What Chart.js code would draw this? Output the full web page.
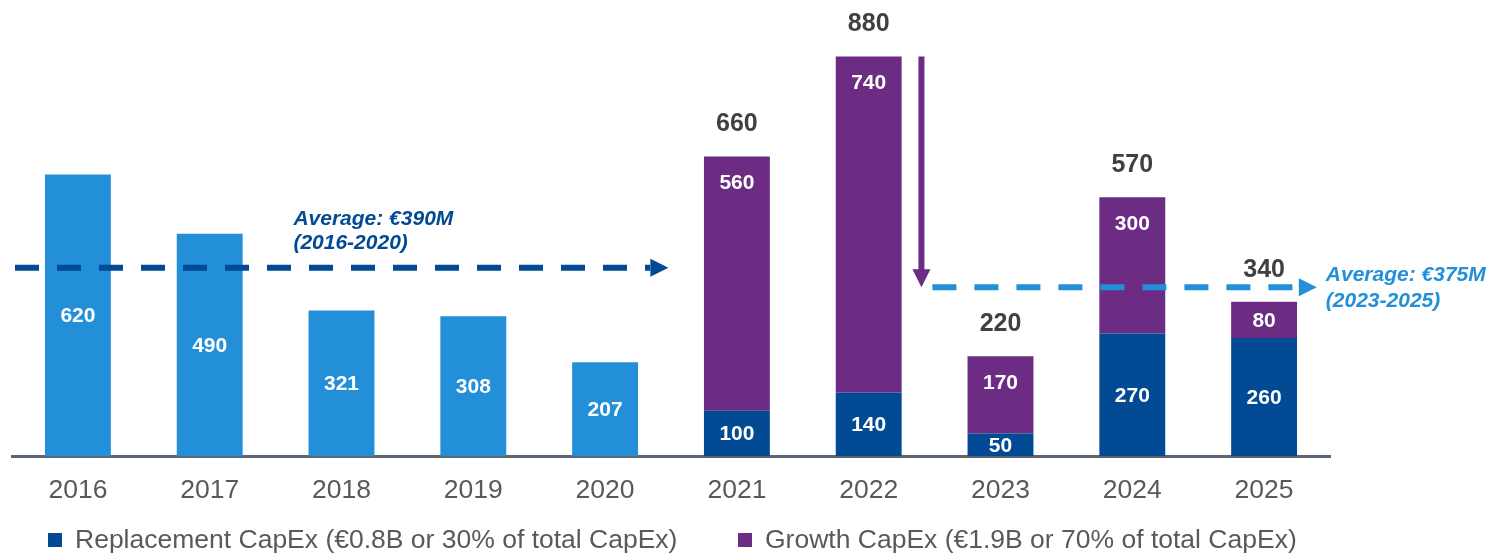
<!DOCTYPE html>
<html>
<head>
<meta charset="utf-8">
<script src="https://cdn.jsdelivr.net/npm/chart.js@4.4.1/dist/chart.umd.min.js"></script>
<style>
  html, body { margin: 0; padding: 0; background: #ffffff; }
  #wrap { width: 1491px; height: 554px; position: relative; }
</style>
</head>
<body>
<div id="wrap"><canvas id="c" width="1491" height="554"></canvas></div>
<script>
// ---- Data ----
const categories = ['2016','2017','2018','2019','2020','2021','2022','2023','2024','2025'];
const historicalCapex = [620, 490, 321, 308, 207, null, null, null, null, null];
const replacementCapex = [null, null, null, null, null, 100, 140, 50, 270, 260];
const growthCapex = [null, null, null, null, null, 560, 740, 170, 300, 80];
const totals = [null, null, null, null, null, 660, 880, 220, 570, 340];
const legendLabels = ['Replacement CapEx (€0.8B or 30% of total CapEx)', 'Growth CapEx (€1.9B or 70% of total CapEx)'];
const avgLabels = [['Average: €390M', '(2016-2020)'], ['Average: €375M', '(2023-2025)']];
const avgLevels = [415, 372]; // drawn level of the dashed average lines on the value axis

const C_LIGHT = '#238FD9';
const C_DARK = '#024A93';
const C_PURPLE = '#6C2C84';
const FONT = '"Liberation Sans", Arial, sans-serif';

function arrowHead(ctx, tipX, tipY, dir, len, half, color) {
  ctx.save();
  ctx.fillStyle = color;
  ctx.beginPath();
  if (dir === 'right') {
    ctx.moveTo(tipX, tipY);
    ctx.lineTo(tipX - len, tipY - half);
    ctx.lineTo(tipX - len, tipY + half);
  } else {
    ctx.moveTo(tipX, tipY);
    ctx.lineTo(tipX - half, tipY - len);
    ctx.lineTo(tipX + half, tipY - len);
  }
  ctx.closePath();
  ctx.fill();
  ctx.restore();
}

const annotationPlugin = {
  id: 'annotations',
  afterDatasetsDraw(chart) {
    const ctx = chart.ctx;
    const x = chart.scales.x, y = chart.scales.y;
    const step = x.getPixelForValue(1) - x.getPixelForValue(0);

    // in-bar value labels
    ctx.save();
    ctx.fillStyle = '#ffffff';
    ctx.font = 'bold 21px ' + FONT;
    ctx.textAlign = 'center';
    ctx.textBaseline = 'middle';
    chart.data.datasets.forEach((ds, di) => {
      const meta = chart.getDatasetMeta(di);
      meta.data.forEach((bar, i) => {
        const v = ds.data[i];
        if (v == null) return;
        const top = bar.y, bottom = bar.base;
        let yy = (top + bottom) / 2;
        if (di === 2) yy = Math.min(top + 26, yy);
        ctx.fillText(String(v), bar.x, yy + 1);
      });
    });
    // totals
    ctx.fillStyle = '#404040';
    ctx.font = 'bold 25px ' + FONT;
    totals.forEach((t, i) => {
      if (t == null) return;
      ctx.fillText(String(t), x.getPixelForValue(i), y.getPixelForValue(t) - 32);
    });
    ctx.restore();

    // dark blue average line (2016-2020)
    const y1 = y.getPixelForValue(avgLevels[0]);
    const x1s = chart.chartArea.left + 3;
    const x1tip = x.getPixelForValue(4) + step * 0.48;
    ctx.save();
    ctx.strokeStyle = C_DARK;
    ctx.lineWidth = 6;
    ctx.setLineDash([24, 18]);
    ctx.beginPath();
    ctx.moveTo(x1s, y1);
    ctx.lineTo(x1tip - 18, y1);
    ctx.stroke();
    ctx.restore();
    arrowHead(ctx, x1tip, y1, 'right', 18, 9, C_DARK);

    // purple down arrow
    const y2 = y.getPixelForValue(avgLevels[1]);
    const ax = x.getPixelForValue(6) + step * 0.40;
    ctx.save();
    ctx.strokeStyle = C_PURPLE;
    ctx.lineWidth = 6;
    ctx.beginPath();
    ctx.moveTo(ax, y.getPixelForValue(totals[6]));
    ctx.lineTo(ax, y2 - 16);
    ctx.stroke();
    ctx.restore();
    arrowHead(ctx, ax, y2, 'down', 18, 9, C_PURPLE);

    // light blue average line (2023-2025)
    const x2s = ax + 11;
    const x2tip = x.getPixelForValue(9) + step * 0.4;
    ctx.save();
    ctx.strokeStyle = C_LIGHT;
    ctx.lineWidth = 6;
    ctx.setLineDash([24, 18]);
    ctx.beginPath();
    ctx.moveTo(x2s, y2);
    ctx.lineTo(x2tip - 18, y2);
    ctx.stroke();
    ctx.restore();
    arrowHead(ctx, x2tip, y2, 'right', 18, 9, C_LIGHT);

    // average texts
    ctx.save();
    ctx.font = 'italic bold 21px ' + FONT;
    ctx.textAlign = 'left';
    ctx.textBaseline = 'middle';
    ctx.fillStyle = C_DARK;
    const tx1 = x.getPixelForValue(2) - step * 0.365;
    ctx.fillText(avgLabels[0][0], tx1, y1 - 49);
    ctx.fillText(avgLabels[0][1], tx1, y1 - 25);
    ctx.fillStyle = C_LIGHT;
    ctx.font = 'italic bold 21px ' + FONT;
    const tx2 = x2tip + 9;
    ctx.fillText(avgLabels[1][0], tx2, y2 - 12);
    ctx.fillText(avgLabels[1][1], tx2, y2 + 14);
    ctx.restore();
  },
  afterDraw(chart) {
    const ctx = chart.ctx;
    ctx.save();
    ctx.font = '26.5px ' + FONT;
    ctx.textBaseline = 'middle';
    ctx.textAlign = 'left';
    const items = [
      { x: 48, color: C_DARK, label: legendLabels[0] },
      { x: 738, color: C_PURPLE, label: legendLabels[1] }
    ];
    const ly = 540;
    items.forEach(it => {
      ctx.fillStyle = it.color;
      ctx.fillRect(it.x, ly - 7, 14, 14);
      ctx.fillStyle = '#595959';
      ctx.fillText(it.label, it.x + 27, ly + 1);
    });
    ctx.restore();
  }
};

new Chart(document.getElementById('c'), {
  type: 'bar',
  data: {
    labels: categories,
    datasets: [
      { label: 'Historical CapEx', data: historicalCapex, backgroundColor: C_LIGHT, stack: 's' },
      { label: legendLabels[0], data: replacementCapex, backgroundColor: C_DARK, stack: 's' },
      { label: legendLabels[1], data: growthCapex, backgroundColor: C_PURPLE, stack: 's' }
    ]
  },
  options: {
    responsive: false,
    animation: false,
    devicePixelRatio: 1,
    layout: { padding: { left: 12, right: 161, top: 2, bottom: 28 } },
    datasets: { bar: { categoryPercentage: 1.0, barPercentage: 0.5, borderWidth: 0 } },
    plugins: { legend: { display: false }, tooltip: { enabled: false } },
    scales: {
      x: {
        stacked: true,
        grid: { display: false, drawTicks: false },
        border: { display: true, color: '#5B6670', width: 3 },
        ticks: { color: '#595959', font: { family: FONT, size: 26.5 }, padding: 19 }
      },
      y: {
        stacked: true,
        display: false,
        min: 0,
        max: 1000
      }
    }
  },
  plugins: [annotationPlugin]
});
</script>
</body>
</html>
